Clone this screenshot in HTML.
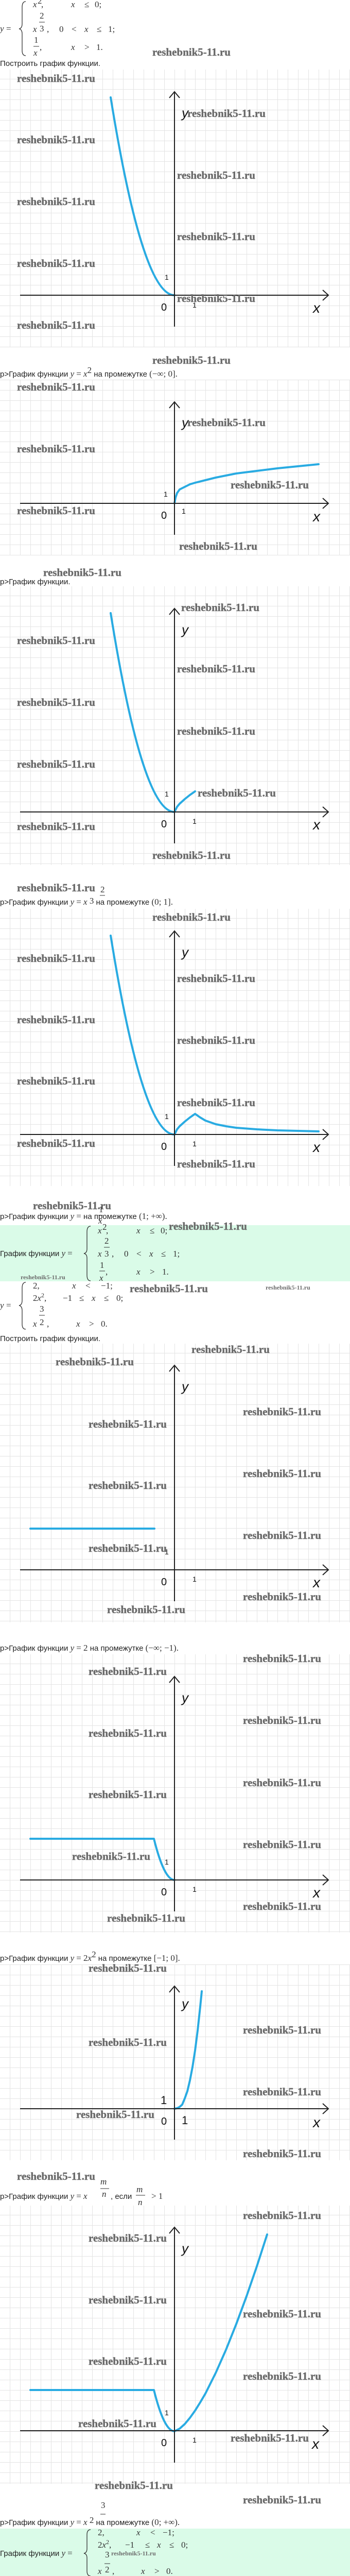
<!DOCTYPE html>
<html><head><meta charset="utf-8"><style>
html,body{margin:0;padding:0;background:#fff;width:680px;height:5035px;overflow:hidden;}
svg{display:block;position:absolute;left:0;top:0;}
.wm{font-family:"Liberation Serif",serif;font-weight:bold;font-size:21px;fill:#6a6a6a;stroke:#6a6a6a;stroke-width:0.4;}
.ws{font-family:"Liberation Serif",serif;font-weight:bold;font-size:12px;fill:#6e6e6e;}
.t{font-family:"Liberation Sans",sans-serif;font-size:15px;fill:#222;}
.m{font-family:"Liberation Serif",serif;font-size:17px;fill:#333;}
.mi{font-family:"Liberation Serif",serif;font-style:italic;font-size:17px;fill:#333;}
.lb{font-family:"Liberation Sans",sans-serif;fill:#111;}
.ax{stroke:#222;stroke-width:2;fill:none;}
.cv{stroke:#29abe2;stroke-width:4;fill:none;stroke-linecap:round;stroke-linejoin:round;}
.br{stroke:#333;stroke-width:1.3;fill:none;}
</style></head><body>
<svg width="680" height="5035" viewBox="0 0 680 5035" xmlns="http://www.w3.org/2000/svg">
<defs>
<pattern id="g18" patternUnits="userSpaceOnUse" x="19" y="18" width="20" height="20"><path d="M0 0.5H20M0.5 0V20" stroke="#e4e4e4" stroke-width="1"/></pattern>
<pattern id="g0" patternUnits="userSpaceOnUse" x="19" y="0" width="20" height="20"><path d="M0 0.5H20M0.5 0V20" stroke="#e4e4e4" stroke-width="1"/></pattern>
</defs>

<!-- Top system -->
<text class="mi" x="0" y="61">y</text><text class="m" x="12" y="61">=</text>
<path class="br" d="M50 3 Q43 3 43 14 L43 46 Q43 55 37 56 Q43 57 43 66 L43 98 Q43 108 50 108"/>
<text class="mi" x="64" y="14">x</text><text class="m" x="73" y="7" font-size="12">2</text><text class="m" x="80" y="14">,</text>
<text class="mi" x="138" y="14">x</text><text class="m" x="164" y="14">≤</text><text class="m" x="184" y="14">0;</text>
<text class="mi" x="64" y="62">x</text><text class="m" x="77" y="36">2</text><line x1="76" y1="43" x2="87" y2="43" stroke="#333"/><text class="m" x="77" y="61">3</text><text class="m" x="91" y="62">,</text>
<text class="m" x="115" y="62">0</text><text class="m" x="139" y="62">&lt;</text><text class="mi" x="164" y="62">x</text><text class="m" x="188" y="62">≤</text><text class="m" x="210" y="62">1;</text>
<text class="m" x="66" y="83">1</text><line x1="65" y1="90" x2="76" y2="90" stroke="#333"/><text class="mi" x="65" y="108">x</text><text class="m" x="77" y="97">,</text>
<text class="mi" x="138" y="97">x</text><text class="m" x="164" y="97">&gt;</text><text class="m" x="187" y="97">1.</text>
<text class="wm" x="296" y="108">reshebnik5-11.ru</text>
<text class="t" x="0" y="128">Построить график функции.</text>

<!-- G1 -->
<g transform="translate(0,135)">
<rect width="680" height="539" fill="url(#g18)"/>
<path class="cv" d="M215 54 Q277 438 339 438"/>
<path class="ax" d="M39 438H637M627 428L638 438L627 448M339 499V43M329 55L339 43L349 55"/>
<text class="lb" x="353" y="93" font-size="26" font-style="italic">y</text>
<text class="lb" x="608" y="472" font-size="28" font-style="italic">x</text>
<text class="lb" x="313" y="468" font-size="20">0</text>
<text class="lb" x="320" y="408" font-size="14">1</text>
<text class="lb" x="374" y="462" font-size="14">1</text>
<text class="wm" x="33" y="24">reshebnik5-11.ru</text>
<text class="wm" x="33" y="143">reshebnik5-11.ru</text>
<text class="wm" x="33" y="263">reshebnik5-11.ru</text>
<text class="wm" x="33" y="383">reshebnik5-11.ru</text>
<text class="wm" x="33" y="503">reshebnik5-11.ru</text>
<text class="wm" x="364" y="92">reshebnik5-11.ru</text>
<text class="wm" x="344" y="212">reshebnik5-11.ru</text>
<text class="wm" x="344" y="331">reshebnik5-11.ru</text>
<text class="wm" x="344" y="451">reshebnik5-11.ru</text>
</g>
<text class="wm" x="296" y="706">reshebnik5-11.ru</text>
<text class="t" x="0" y="731">p&gt;График функции <tspan class="mi">y</tspan> <tspan class="m">=</tspan> <tspan class="mi">x</tspan><tspan class="m" font-size="11" dy="-7">2</tspan><tspan dy="7"> на промежутке </tspan><tspan class="m">(−∞; 0].</tspan></text>

<!-- G2 -->
<g transform="translate(0,737)">
<rect width="680" height="341" fill="url(#g0)"/>
<polyline class="cv" points="339,240 341,229 344,220 349,213 359,208 369,203 379,200 399,195 419,190 439,186 459,182 499,177 539,172 579,168 619,164"/>
<path class="ax" d="M39 240H637M627 230L638 240L627 250M339 301V43M329 55L339 43L349 55"/>
<text class="lb" x="353" y="92" font-size="26" font-style="italic">y</text>
<text class="lb" x="608" y="275" font-size="28" font-style="italic">x</text>
<text class="lb" x="313" y="270" font-size="20">0</text>
<text class="lb" x="318" y="227" font-size="14">1</text>
<text class="lb" x="353" y="260" font-size="14">1</text>
<text class="wm" x="33" y="21">reshebnik5-11.ru</text>
<text class="wm" x="33" y="141">reshebnik5-11.ru</text>
<text class="wm" x="33" y="261">reshebnik5-11.ru</text>
<text class="wm" x="364" y="90">reshebnik5-11.ru</text>
<text class="wm" x="448" y="211">reshebnik5-11.ru</text>
<text class="wm" x="348" y="330">reshebnik5-11.ru</text>
</g>
<text class="wm" x="84" y="1118">reshebnik5-11.ru</text>
<text class="t" x="0" y="1134">p&gt;График функции.</text>

<!-- G3 -->
<g transform="translate(0,1138)">
<rect width="680" height="541" fill="url(#g18)"/>
<path class="cv" d="M215 52 Q277 438 339 438"/>
<polyline class="cv" points="339,438 344,428 349,422 359,413 369,405 379,398"/>
<path class="ax" d="M39 438H637M627 428L638 438L627 448M339 499V43M329 55L339 43L349 55"/>
<text class="lb" x="353" y="93" font-size="26" font-style="italic">y</text>
<text class="lb" x="608" y="472" font-size="28" font-style="italic">x</text>
<text class="lb" x="313" y="468" font-size="20">0</text>
<text class="lb" x="320" y="408" font-size="14">1</text>
<text class="lb" x="374" y="461" font-size="14">1</text>
<text class="wm" x="352" y="48">reshebnik5-11.ru</text>
<text class="wm" x="33" y="112">reshebnik5-11.ru</text>
<text class="wm" x="344" y="167">reshebnik5-11.ru</text>
<text class="wm" x="33" y="232">reshebnik5-11.ru</text>
<text class="wm" x="344" y="288">reshebnik5-11.ru</text>
<text class="wm" x="33" y="352">reshebnik5-11.ru</text>
<text class="wm" x="384" y="408">reshebnik5-11.ru</text>
<text class="wm" x="33" y="473">reshebnik5-11.ru</text>
</g>
<text class="wm" x="296" y="1667">reshebnik5-11.ru</text>
<text class="wm" x="33" y="1730">reshebnik5-11.ru</text>
<text class="m" x="195" y="1732" font-size="14">2</text>
<text class="t" x="0" y="1756">p&gt;График функции <tspan class="mi">y</tspan> <tspan class="m">=</tspan> <tspan class="mi">x</tspan><tspan class="m" font-size="14" dy="-2"> 3</tspan><tspan dy="2">  на промежутке </tspan><tspan class="m">(0; 1].</tspan></text>
<line x1="194" y1="1738" x2="204" y2="1738" stroke="#333"/>

<!-- G4 -->
<g transform="translate(0,1764)">
<rect width="680" height="538" fill="url(#g18)"/>
<path class="cv" d="M215 52 Q277 438 339 438"/>
<polyline class="cv" points="339,438 344,428 349,422 359,413 369,405 379,398 389,405 399,411 419,418 439,422 459,425 499,428 539,430 579,431 619,432"/>
<path class="ax" d="M39 438H637M627 428L638 438L627 448M339 499V43M329 55L339 43L349 55"/>
<text class="lb" x="353" y="93" font-size="26" font-style="italic">y</text>
<text class="lb" x="608" y="472" font-size="28" font-style="italic">x</text>
<text class="lb" x="313" y="468" font-size="20">0</text>
<text class="lb" x="320" y="408" font-size="14">1</text>
<text class="lb" x="374" y="461" font-size="14">1</text>
<text class="wm" x="296" y="23">reshebnik5-11.ru</text>
<text class="wm" x="33" y="103">reshebnik5-11.ru</text>
<text class="wm" x="344" y="142">reshebnik5-11.ru</text>
<text class="wm" x="33" y="222">reshebnik5-11.ru</text>
<text class="wm" x="344" y="262">reshebnik5-11.ru</text>
<text class="wm" x="33" y="341">reshebnik5-11.ru</text>
<text class="wm" x="344" y="383">reshebnik5-11.ru</text>
<text class="wm" x="33" y="462">reshebnik5-11.ru</text>
<text class="wm" x="344" y="502">reshebnik5-11.ru</text>
</g>
<text class="wm" x="64" y="2347">reshebnik5-11.ru</text>
<text class="m" x="192" y="2353" font-size="14">1</text>
<line x1="191" y1="2359" x2="200" y2="2359" stroke="#333"/>
<text class="mi" x="191" y="2375" font-size="14">x</text>
<text class="t" x="0" y="2366">p&gt;График функции <tspan class="mi">y</tspan> <tspan class="m">=</tspan>      на промежутке <tspan class="m">(1; +∞).</tspan></text>

<!-- green box 1 -->
<rect x="0" y="2378" width="680" height="109" fill="#dafbe8"/>
<text class="t" x="0" y="2438">График функции <tspan class="mi">y</tspan> <tspan class="m">=</tspan></text>
<path class="br" d="M176 2380 Q169 2380 169 2391 L169 2424 Q169 2432 163 2433 Q169 2434 169 2442 L169 2475 Q169 2486 176 2486"/>
<text class="mi" x="190" y="2394">x</text><text class="m" x="199" y="2387" font-size="12">2</text><text class="m" x="206" y="2394">,</text>
<text class="mi" x="265" y="2394">x</text><text class="m" x="291" y="2394">≤</text><text class="m" x="312" y="2394">0;</text>
<text class="wm" x="328" y="2387">reshebnik5-11.ru</text>
<text class="mi" x="190" y="2439">x</text><text class="m" x="203" y="2414">2</text><line x1="202" y1="2421" x2="213" y2="2421" stroke="#333"/><text class="m" x="203" y="2439">3</text><text class="m" x="217" y="2439">,</text>
<text class="m" x="241" y="2439">0</text><text class="m" x="265" y="2439">&lt;</text><text class="mi" x="290" y="2439">x</text><text class="m" x="313" y="2439">≤</text><text class="m" x="336" y="2439">1;</text>
<text class="m" x="194" y="2461">1</text><line x1="193" y1="2467" x2="204" y2="2467" stroke="#333"/><text class="mi" x="193" y="2486">x</text><text class="m" x="205" y="2474">,</text>
<text class="mi" x="265" y="2474">x</text><text class="m" x="291" y="2474">&gt;</text><text class="m" x="315" y="2474">1.</text>
<text class="ws" x="40" y="2483">reshebnik5-11.ru</text>

<!-- system 2 -->
<text class="mi" x="0" y="2539">y</text><text class="m" x="12" y="2539">=</text>
<path class="br" d="M50 2489 Q43 2489 43 2500 L43 2524 Q43 2533 37 2534 Q43 2535 43 2544 L43 2570 Q43 2580 50 2580"/>
<text class="m" x="64" y="2501">2,</text>
<text class="mi" x="140" y="2501">x</text><text class="m" x="166" y="2501">&lt;</text><text class="m" x="196" y="2501">−1;</text>
<text class="wm" x="252" y="2508">reshebnik5-11.ru</text>
<text class="ws" x="516" y="2503">reshebnik5-11.ru</text>
<text class="m" x="64" y="2525">2<tspan class="mi">x</tspan><tspan font-size="12" dy="-7">2</tspan><tspan dy="7">,</tspan></text>
<text class="m" x="122" y="2525">−1</text><text class="m" x="154" y="2525">≤</text><text class="mi" x="178" y="2525">x</text><text class="m" x="202" y="2525">≤</text><text class="m" x="226" y="2525">0;</text>
<text class="m" x="77" y="2546">3</text><line x1="76" y1="2553" x2="87" y2="2553" stroke="#333"/><text class="m" x="77" y="2572">2</text>
<text class="mi" x="64" y="2575">x</text><text class="m" x="91" y="2575">,</text>
<text class="mi" x="148" y="2575">x</text><text class="m" x="173" y="2575">&gt;</text><text class="m" x="196" y="2575">0.</text>
<text class="t" x="0" y="2603">Построить график функции.</text>

<!-- G5 -->
<g transform="translate(0,2608)">
<rect width="680" height="541" fill="url(#g18)"/>
<path class="cv" d="M59 359H300"/>
<path class="ax" d="M39 439H637M627 429L638 439L627 449M339 500V42M329 54L339 42L349 54"/>
<text class="lb" x="353" y="92" font-size="26" font-style="italic">y</text>
<text class="lb" x="608" y="473" font-size="28" font-style="italic">x</text>
<text class="lb" x="313" y="469" font-size="20">0</text>
<text class="lb" x="320" y="409" font-size="14">1</text>
<text class="lb" x="374" y="462" font-size="14">1</text>
<text class="wm" x="372" y="18">reshebnik5-11.ru</text>
<text class="wm" x="108" y="42">reshebnik5-11.ru</text>
<text class="wm" x="472" y="139">reshebnik5-11.ru</text>
<text class="wm" x="172" y="163">reshebnik5-11.ru</text>
<text class="wm" x="472" y="259">reshebnik5-11.ru</text>
<text class="wm" x="172" y="282">reshebnik5-11.ru</text>
<text class="wm" x="472" y="379">reshebnik5-11.ru</text>
<text class="wm" x="172" y="404">reshebnik5-11.ru</text>
<text class="wm" x="472" y="498">reshebnik5-11.ru</text>
<text class="wm" x="208" y="523">reshebnik5-11.ru</text>
</g>
<text class="t" x="0" y="3204">p&gt;График функции <tspan class="mi">y</tspan> <tspan class="m">=</tspan> <tspan class="m">2</tspan> на промежутке <tspan class="m">(−∞; −1).</tspan></text>

<!-- G6 -->
<g transform="translate(0,3211)">
<rect width="680" height="540" fill="url(#g18)"/>
<path class="cv" d="M59 358H299 Q319 438 339 438"/>
<path class="ax" d="M39 438H637M627 428L638 438L627 448M339 499V43M329 55L339 43L349 55"/>
<text class="lb" x="353" y="93" font-size="26" font-style="italic">y</text>
<text class="lb" x="608" y="472" font-size="28" font-style="italic">x</text>
<text class="lb" x="313" y="468" font-size="20">0</text>
<text class="lb" x="320" y="408" font-size="14">1</text>
<text class="lb" x="374" y="461" font-size="14">1</text>
<text class="wm" x="472" y="15">reshebnik5-11.ru</text>
<text class="wm" x="172" y="40">reshebnik5-11.ru</text>
<text class="wm" x="472" y="135">reshebnik5-11.ru</text>
<text class="wm" x="172" y="160">reshebnik5-11.ru</text>
<text class="wm" x="472" y="256">reshebnik5-11.ru</text>
<text class="wm" x="172" y="279">reshebnik5-11.ru</text>
<text class="wm" x="472" y="376">reshebnik5-11.ru</text>
<text class="wm" x="140" y="399">reshebnik5-11.ru</text>
<text class="wm" x="472" y="496">reshebnik5-11.ru</text>
<text class="wm" x="208" y="519">reshebnik5-11.ru</text>
</g>
<text class="t" x="0" y="3806">p&gt;График функции <tspan class="mi">y</tspan> <tspan class="m">=</tspan> <tspan class="m">2</tspan><tspan class="mi">x</tspan><tspan class="m" font-size="11" dy="-7">2</tspan><tspan dy="7"> на промежутке </tspan><tspan class="m" fill="#555">[−1; 0].</tspan></text>

<!-- G7 -->
<g transform="translate(0,3813)">
<rect width="680" height="380" fill="url(#g0)"/>
<polyline class="cv" points="339,280 344,279 349,276.5 354,272 359,260 364,246 369,225 374,199 379,167 384,128 389,82 392,52"/>
<path class="ax" d="M39 280H637M627 270L638 280L627 290M339 340V42M329 54L339 42L349 54"/>
<text class="lb" x="353" y="85" font-size="26" font-style="italic">y</text>
<text class="lb" x="608" y="316" font-size="28" font-style="italic">x</text>
<text class="lb" x="313" y="311" font-size="20">0</text>
<text class="lb" x="312" y="271" font-size="22">1</text>
<text class="lb" x="353" y="310" font-size="22">1</text>
<text class="wm" x="172" y="14">reshebnik5-11.ru</text>
<text class="wm" x="472" y="134">reshebnik5-11.ru</text>
<text class="wm" x="172" y="158">reshebnik5-11.ru</text>
<text class="wm" x="472" y="254">reshebnik5-11.ru</text>
<text class="wm" x="148" y="298">reshebnik5-11.ru</text>
<text class="wm" x="472" y="374">reshebnik5-11.ru</text>
</g>
<text class="wm" x="33" y="4231">reshebnik5-11.ru</text>
<text class="mi" x="195" y="4240" font-size="13">m</text><line x1="195" y1="4248" x2="212" y2="4248" stroke="#333"/><text class="mi" x="198" y="4264" font-size="13">n</text>
<text class="t" x="0" y="4268">p&gt;График функции <tspan class="mi">y</tspan> <tspan class="m">=</tspan> <tspan class="mi">x</tspan></text>
<text class="t" x="215" y="4268">, если</text>
<text class="mi" x="265" y="4255" font-size="14">m</text><line x1="264" y1="4261" x2="282" y2="4261" stroke="#333"/><text class="mi" x="268" y="4280" font-size="14">n</text>
<text class="m" x="294" y="4268">&gt; 1</text>

<!-- G8 -->
<g transform="translate(0,4281)">
<rect width="680" height="540" fill="url(#g18)"/>
<path class="cv" d="M59 358H299 Q319 438 339 438"/>
<polyline class="cv" points="339,438 349,433 359,424 369,412 379,398 389,382 399,365 419,325 439,280 459,230 479,176 499,118 519,56"/>
<path class="ax" d="M39 437H637M627 427L638 437L627 447M339 499V42M329 54L339 42L349 54"/>
<text class="lb" x="353" y="92" font-size="26" font-style="italic">y</text>
<text class="lb" x="606" y="472" font-size="28" font-style="italic">x</text>
<text class="lb" x="313" y="467" font-size="20">0</text>
<text class="lb" x="320" y="407" font-size="14">1</text>
<text class="lb" x="374" y="460" font-size="14">1</text>
<text class="wm" x="472" y="26">reshebnik5-11.ru</text>
<text class="wm" x="172" y="70">reshebnik5-11.ru</text>
<text class="wm" x="172" y="190">reshebnik5-11.ru</text>
<text class="wm" x="472" y="217">reshebnik5-11.ru</text>
<text class="wm" x="172" y="309">reshebnik5-11.ru</text>
<text class="wm" x="472" y="338">reshebnik5-11.ru</text>
<text class="wm" x="152" y="430">reshebnik5-11.ru</text>
<text class="wm" x="448" y="458">reshebnik5-11.ru</text>
</g>
<text class="wm" x="184" y="4831">reshebnik5-11.ru</text>
<text class="wm" x="472" y="4859">reshebnik5-11.ru</text>
<text class="m" x="196" y="4868" font-size="15">3</text><line x1="195" y1="4880" x2="205" y2="4880" stroke="#333"/>
<text class="t" x="0" y="4901">p&gt;График функции <tspan class="mi">y</tspan> <tspan class="m">=</tspan> <tspan class="mi">x</tspan><tspan class="m" font-size="15" dy="-4"> 2</tspan><tspan dy="4">  на промежутке </tspan><tspan class="m">(0; +∞).</tspan></text>

<!-- green box 2 -->
<rect x="0" y="4908" width="680" height="94" fill="#dafbe8"/>
<text class="t" x="0" y="4961">График функции <tspan class="mi">y</tspan> <tspan class="m">=</tspan></text>
<path class="br" d="M176 4910 Q169 4910 169 4920 L169 4947 Q169 4955 163 4956 Q169 4957 169 4965 L169 4990 Q169 5000 176 5000"/>
<text class="m" x="190" y="4921">2,</text>
<text class="mi" x="265" y="4921">x</text><text class="m" x="292" y="4921">&lt;</text><text class="m" x="316" y="4921">−1;</text>
<text class="m" x="190" y="4945">2<tspan class="mi">x</tspan><tspan font-size="12" dy="-7">2</tspan><tspan dy="7">,</tspan></text>
<text class="m" x="243" y="4945">−1</text><text class="m" x="282" y="4945">≤</text><text class="mi" x="305" y="4945">x</text><text class="m" x="329" y="4945">≤</text><text class="m" x="352" y="4945">0;</text>
<text class="m" x="204" y="4964">3</text>
<text class="ws" x="216" y="4960" font-size="11">reshebnik5-11.ru</text>
<line x1="203" y1="4976" x2="214" y2="4976" stroke="#333"/>
<text class="mi" x="190" y="4996">x</text><text class="m" x="204" y="4993">2</text><text class="m" x="218" y="4996">,</text>
<text class="mi" x="274" y="4996">x</text><text class="m" x="300" y="4996">&gt;</text><text class="m" x="323" y="4996">0.</text>
</svg>
</body></html>
